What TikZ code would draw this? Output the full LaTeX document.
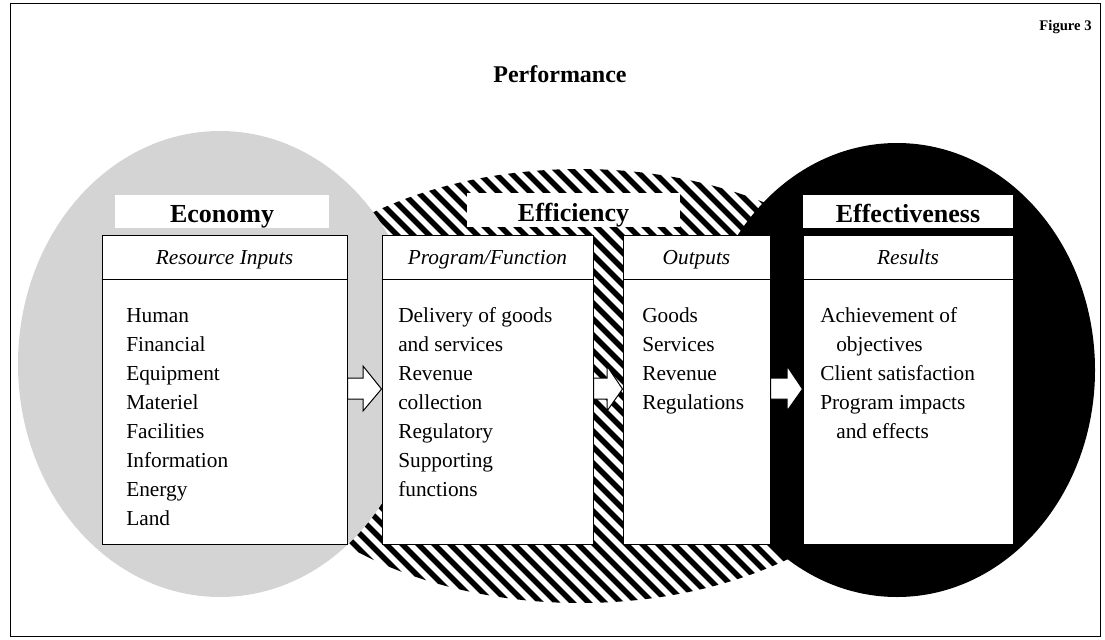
\documentclass[tikz,border=0pt]{standalone}
\usepackage{fontspec}
\setmainfont{Liberation Serif}
\usetikzlibrary{fit}
\definecolor{econgray}{RGB}{212,212,212}

\tikzset{
  stage/.style={draw=black, line width=0.75pt, fill=white, inner sep=0pt},
  tag/.style={fill=white, inner sep=0pt},
  tagtext/.style={anchor=base, inner sep=0pt, font=\fontsize{19.5}{22}\selectfont\bfseries},
  head/.style={anchor=base, inner sep=0pt, font=\fontsize{16}{19}\selectfont\itshape},
  item/.style={anchor=base west, inner sep=0pt, font=\fontsize{16}{19}\selectfont},
  flowarr/.style={draw=black, line width=0.75pt, fill=white, line join=miter},
  hatchline/.style={line width=4pt}
}

% block arrow from one box to the next, #3 = x of the arrow head base
\newcommand{\flowarrow}[3]{%
  \draw[flowarr] (#1.east |- shafttop) -- (#3,378) -- (#3,366) -- (#2.west |- tip)
    -- (#3,411) -- (#3,399) -- (#1.east |- shaftbot) -- cycle;}

\begin{document}
\begin{tikzpicture}[x=0.75pt, y=-0.75pt]
  \useasboundingbox (0,0) rectangle (1105,639);
  \draw[line width=0.75pt] (10,3) rectangle (1100,636);

  % titles
  \node[anchor=base, inner sep=0pt, font=\fontsize{18}{20}\selectfont\bfseries] (title) at (560,82) {Performance};
  \node[anchor=base east, inner sep=0pt, font=\fontsize{11}{12}\selectfont\bfseries] (fignum) at (1092,30) {Figure 3};

  % hatched efficiency ellipse
  \begin{scope}
    \clip (580,386) ellipse [x radius=345, y radius=217];
    \foreach \k in {-50,...,50}
      \draw[hatchline] (580+\k*16-260,126) -- ++(520,520);
  \end{scope}

  % economy and effectiveness ellipses
  \fill[econgray] (220,364) ellipse [x radius=202, y radius=233];
  \fill[black] (897,370) ellipse [x radius=198, y radius=227];

  % section tags
  \node[tag, fit={(115,195) (329,228)}] (econtag) {};
  \node[tagtext] at (econtag.center |- 0,222) {Economy};
  \node[tag, fit={(467,193) (680,227)}] (efftag) {};
  \node[tagtext] at (efftag.center |- 0,221) {Efficiency};
  \node[tag, fit={(803,195) (1013,228)}] (resulttag) {};
  \node[tagtext] at (resulttag.center |- 0,222) {Effectiveness};

  % boxes
  \node[stage, fit={(102,235) (347,544)}] (inputs) {};
  \node[stage, fit={(382,235) (593,544)}] (program) {};
  \node[stage, fit={(623,235) (770,544)}] (outputs) {};
  \node[stage, fit={(803,235) (1013,544)}] (results) {};
  \foreach \b in {inputs,program,outputs,results}
    \draw[line width=0.75pt] (\b.west |- 0,279) -- (\b.east |- 0,279);

  \node[head] (inputs-h) at (inputs.north |- 0,264) {Resource Inputs};
  \node[head] (program-h) at (program.north |- 0,264) {Program/Function};
  \node[head] (outputs-h) at (outputs.north |- 0,264) {Outputs};
  \node[head] (results-h) at (results.north |- 0,264) {Results};

  \foreach \t [count=\i from 0] in {Human,Financial,Equipment,Materiel,Facilities,Information,Energy,Land}
    \node[item] (in-\i) at (126,322+29*\i) {\t};
  \foreach \t [count=\i from 0] in {Delivery of goods,and services,Revenue,collection,Regulatory,Supporting,functions}
    \node[item] (pr-\i) at (398,322+29*\i) {\t};
  \foreach \t [count=\i from 0] in {Goods,Services,Revenue,Regulations}
    \node[item] (out-\i) at (642,322+29*\i) {\t};
  \foreach \t [count=\i from 0] in {Achievement of,\hspace*{12pt}objectives,Client satisfaction,Program impacts,\hspace*{12pt}and effects}
    \node[item] (res-\i) at (820,322+29*\i) {\t};

  % arrows between the boxes
  \coordinate (shafttop) at (0,378);
  \coordinate (shaftbot) at (0,399);
  \coordinate (tip) at (0,389);
  \flowarrow{inputs}{program}{363}
  \flowarrow{program}{outputs}{607}
  \flowarrow{outputs}{results}{787}
\end{tikzpicture}
\end{document}
